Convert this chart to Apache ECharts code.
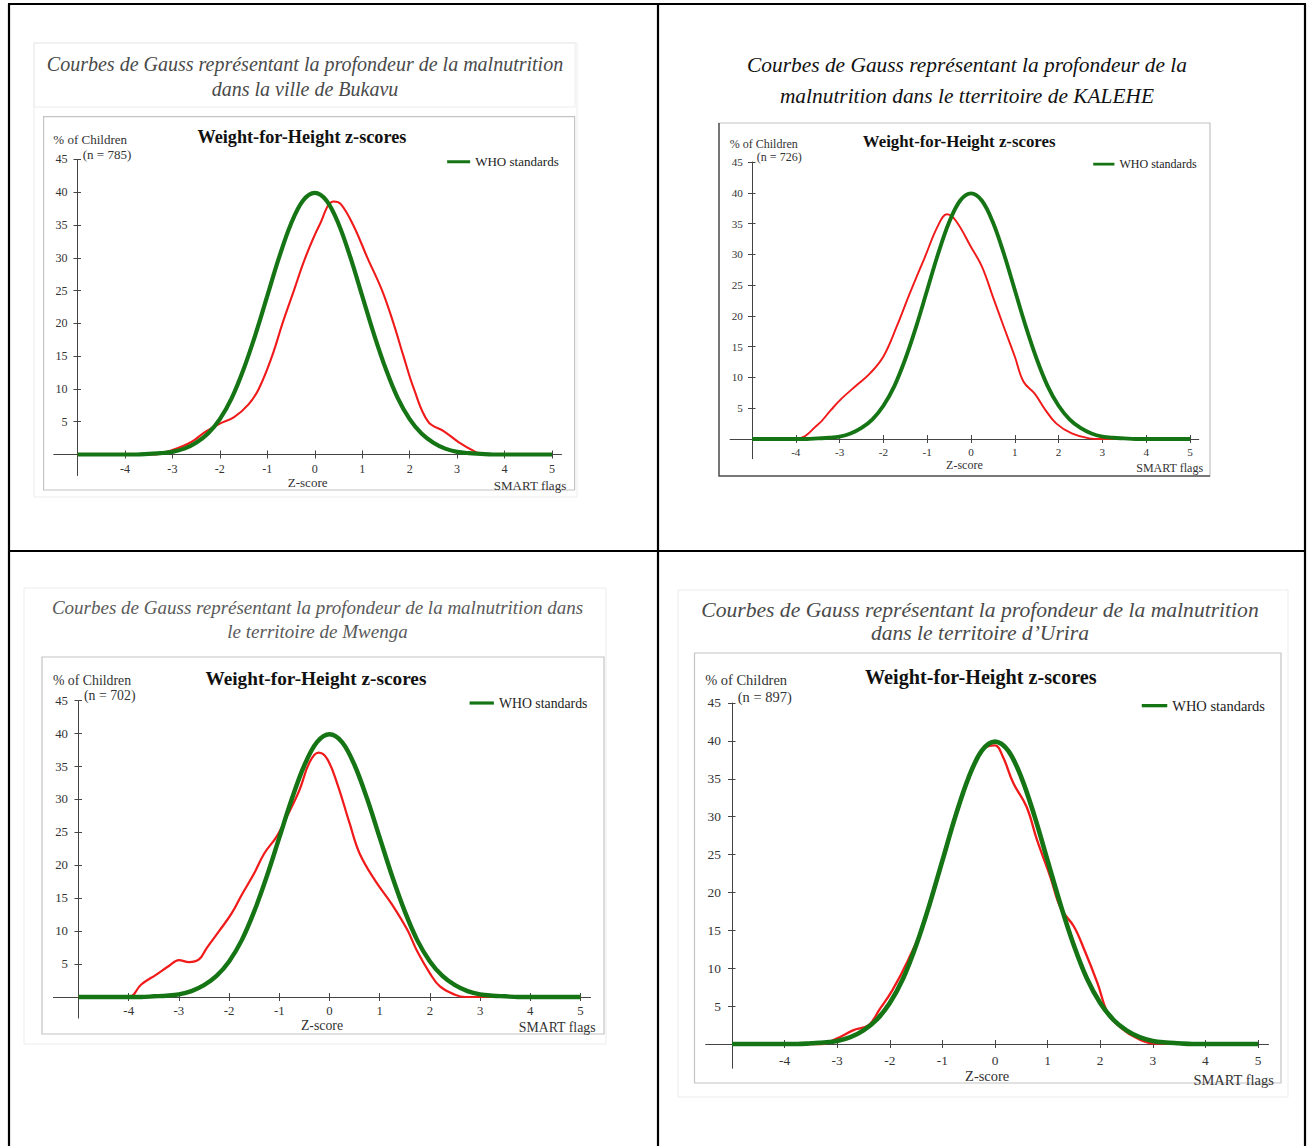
<!DOCTYPE html>
<html><head><meta charset="utf-8">
<script src="https://cdn.jsdelivr.net/npm/echarts@6/dist/echarts.min.js"></script>
<style>html,body{margin:0;padding:0;background:#fff}#c{width:1308px;height:1146px}</style>
</head><body><div id="c"></div>
<script>
// ---------- data ----------
const xTicks = [-4, -3, -2, -1, 0, 1, 2, 3, 4, 5];
const yTicks = [5, 10, 15, 20, 25, 30, 35, 40, 45];
const chartTitle = 'Weight-for-Height z-scores';
const yAxisTitle = '% of Children';
const legendLabel = 'WHO standards';
const xAxisTitle = 'Z-score';
const flagsLabel = 'SMART flags';

const whoZ   = [-5, -4.5, -4, -3.75, -3.5, -3.25, -3, -2.75, -2.5, -2.25, -2, -1.75, -1.5, -1.25, -1, -0.75, -0.5, -0.25, 0, 0.25, 0.5, 0.75, 1, 1.25, 1.5, 1.75, 2, 2.25, 2.5, 2.75, 3, 3.25, 3.5, 3.75, 4, 4.5, 5];
const whoPct = [0, 0, 0, 0, 0.1, 0.2, 0.4, 0.9, 1.8, 3.2, 5.4, 8.6, 13.0, 18.3, 24.2, 30.1, 35.2, 38.7, 39.9, 38.7, 35.2, 30.1, 24.2, 18.3, 13.0, 8.6, 5.4, 3.2, 1.8, 0.9, 0.4, 0.2, 0.1, 0, 0, 0, 0];

const bukavuZ   = [-5, -3.4, -3.0, -2.6, -2.3, -2.0, -1.7, -1.4, -1.18, -0.9, -0.68, -0.44, -0.2, 0.1, 0.4, 0.55, 0.81, 1.11, 1.42, 1.66, 1.87, 2.09, 2.39, 2.73, 3.03, 3.34, 3.55, 5];
const bukavuPct = [0, 0, 0.7, 1.9, 3.5, 4.7, 5.7, 7.6, 10, 15, 20, 25, 30, 35, 38.6, 38.2, 35, 30, 25, 20, 15, 10, 5, 3.5, 1.9, 0.6, 0, 0];

const kaleheZ   = [-5, -4.0, -3.5, -3.2, -2.95, -2.6, -2.3, -2.0, -1.7, -1.4, -1.05, -0.75, -0.55, -0.35, 0.0, 0.25, 0.5, 0.75, 1.0, 1.2, 1.45, 1.7, 1.95, 2.3, 2.7, 2.95, 5];
const kalehePct = [0, 0, 2.3, 4.7, 6.6, 8.8, 10.7, 13.4, 18.2, 23.6, 29.6, 34.7, 36.5, 35.5, 31.2, 28.0, 23.1, 18.2, 13.4, 9.3, 7.4, 4.7, 2.5, 0.9, 0.1, 0, 0];

const mwengaZ   = [-5, -4.0, -3.75, -3.45, -3.2, -3.0, -2.8, -2.6, -2.45, -2.2, -1.95, -1.75, -1.5, -1.3, -1.05, -0.85, -0.6, -0.4, -0.22, -0.05, 0.15, 0.4, 0.6, 0.9, 1.25, 1.55, 1.75, 2.0, 2.2, 2.5, 2.7, 5];
const mwengaPct = [0, 0, 1.9, 3.4, 4.7, 5.6, 5.3, 5.7, 7.4, 10.0, 12.7, 15.5, 18.8, 21.8, 24.4, 27.4, 31.4, 35.6, 37.1, 36.2, 32.5, 26.4, 21.8, 17.8, 14.0, 10.2, 6.9, 3.6, 1.6, 0.35, 0, 0];

const uriraZ   = [-5, -3.3, -3.0, -2.7, -2.4, -2.2, -1.95, -1.65, -1.35, -1.05, -0.75, -0.45, -0.25, 0.0, 0.15, 0.35, 0.6, 0.8, 1.05, 1.25, 1.5, 1.7, 1.95, 2.15, 2.4, 2.7, 3.0, 5];
const uriraPct = [0, 0, 0.75, 1.8, 2.5, 4.5, 7.1, 11.1, 15.9, 22.9, 30.4, 36.1, 38.8, 39.4, 37.9, 34.4, 31.3, 26.9, 22.1, 17.9, 15.5, 12.4, 8.0, 4.0, 2.1, 0.75, 0.1, 0];

const sampleSizes = [785, 726, 702, 897];
const places = ['Bukavu', 'KALEHE', 'Mwenga', 'Urira'];
const captions = [
  ['Courbes de Gauss représentant la profondeur de la malnutrition', 'dans la ville de Bukavu'],
  ['Courbes de Gauss représentant la profondeur de la', 'malnutrition dans le tterritoire de KALEHE'],
  ['Courbes de Gauss représentant la profondeur de la malnutrition dans', 'le territoire de Mwenga'],
  ['Courbes de Gauss représentant la profondeur de la malnutrition', 'dans le territoire d\u2019Urira']
];
const redZ = [bukavuZ, kaleheZ, mwengaZ, uriraZ];
const redPct = [bukavuPct, kalehePct, mwengaPct, uriraPct];

// ---------- layout / style ----------
const SERIF = "'Liberation Serif','Times New Roman',serif";
const XMIN = -5.5, XMAX = 5.2, YMIN = -3.2, YMAX = 45;
const L = [
  {X0: 77.5, Y0: 454.5, ux: 47.45, uy: 6.556},
  {X0: 752,  Y0: 439,   ux: 43.8,  uy: 6.156},
  {X0: 78.5, Y0: 997,   ux: 50.2,  uy: 6.584},
  {X0: 732,  Y0: 1044,  ux: 52.6,  uy: 7.578}
];
const frames = [[43.6, 116.7, 574.6, 490], [719, 123, 1210, 476], [42, 657, 604, 1034], [694.5, 653, 1281, 1083]];
const capStyle = [
  {cx: 305, y1: 64, y2: 89, fs: 20, color: '#4a4a4a'},
  {cx: 967, y1: 65, y2: 96, fs: 21.4, color: '#111'},
  {cx: 317.5, y1: 607, y2: 631, fs: 19, color: '#5a5a5a'},
  {cx: 980, y1: 610, y2: 633, fs: 21.6, color: '#4a4a4a'}
];
const faintBoxes = [[34, 43, 575, 107], [34, 43, 577, 497], [24, 588, 606, 1044], [678, 590, 1288, 1097]];

const zip = (a, b) => a.map((v, i) => [v, b[i]]);

const grids = [], xAxes = [], yAxes = [], series = [], legends = [], graphics = [];

// table lines
const tbl = [[8, 4, 1306, 4], [9, 4, 9, 1146], [1305, 4, 1305, 1146], [658, 4, 658, 1146], [8, 551, 1306, 551]];
tbl.forEach(p => graphics.push({type: 'line', shape: {x1: p[0], y1: p[1], x2: p[2], y2: p[3]}, style: {stroke: '#000', lineWidth: 2.2}, z: 10}));
faintBoxes.forEach(b => graphics.push({type: 'rect', shape: {x: b[0], y: b[1], width: b[2] - b[0], height: b[3] - b[1]}, style: {fill: 'none', stroke: '#ececec', lineWidth: 1}}));

L.forEach((l, i) => {
  const s = l.ux / 47.45;
  const fsSmall = 0.275 * l.ux;
  const fsTick = 0.255 * l.ux;
  const fsTitle = 0.384 * l.ux;
  const below = -YMIN * l.uy; // distance from the x-axis line down to the grid bottom
  const f = frames[i];
  graphics.push({type: 'rect', shape: {x: f[0], y: f[1], width: f[2] - f[0], height: f[3] - f[1]}, style: {fill: 'none', stroke: '#c4c4c4', lineWidth: 1.2}});
  if (i === 1) {
    graphics.push({type: 'polyline', shape: {points: [[f[0], f[1]], [f[0], f[3]], [f[2], f[3]]]}, style: {fill: 'none', stroke: '#555', lineWidth: 1.5}});
  }
  const c = capStyle[i];
  graphics.push({type: 'text', style: {text: captions[i][0], x: c.cx, y: c.y1, align: 'center', verticalAlign: 'middle', font: 'italic ' + c.fs + 'px ' + SERIF, fill: c.color}});
  graphics.push({type: 'text', style: {text: captions[i][1], x: c.cx, y: c.y2, align: 'center', verticalAlign: 'middle', font: 'italic ' + c.fs + 'px ' + SERIF, fill: c.color}});
  // chart texts
  graphics.push({type: 'text', style: {text: chartTitle, x: l.X0 + 4.73 * l.ux, y: l.Y0 - 48.4 * l.uy, align: 'center', verticalAlign: 'middle', font: 'bold ' + fsTitle + 'px ' + SERIF, fill: '#111'}});
  graphics.push({type: 'text', style: {text: yAxisTitle, x: l.X0 - 0.51 * l.ux, y: l.Y0 - 48.0 * l.uy, align: 'left', verticalAlign: 'middle', font: fsSmall + 'px ' + SERIF, fill: '#333'}});
  graphics.push({type: 'text', style: {text: '(n = ' + sampleSizes[i] + ')', x: l.X0 + 0.11 * l.ux, y: l.Y0 - 45.8 * l.uy, align: 'left', verticalAlign: 'middle', font: fsSmall + 'px ' + SERIF, fill: '#333'}});
  graphics.push({type: 'text', style: {text: flagsLabel, x: l.X0 + 10.3 * l.ux, y: l.Y0 + 4.7 * l.uy, align: 'right', verticalAlign: 'middle', font: fsSmall + 'px ' + SERIF, fill: '#333'}});

  grids.push({left: l.X0 + (XMIN + 5) * l.ux, width: (XMAX - XMIN) * l.ux, top: l.Y0 - YMAX * l.uy, height: (YMAX - YMIN) * l.uy, outerBoundsMode: 'none', containLabel: false});
  const axLine = {show: true, lineStyle: {color: '#444', width: 1}};
  xAxes.push({gridIndex: i, type: 'value', min: XMIN, max: XMAX, position: 'bottom',
    axisLine: Object.assign({onZero: true, onZeroAxisIndex: 2 * i}, axLine),
    axisTick: {show: true, customValues: xTicks, length: 4, lineStyle: {color: '#444'}},
    axisLabel: {show: true, customValues: xTicks, margin: 2.36 * l.uy - 0.6 * fsTick - below, fontFamily: SERIF, fontSize: fsTick, color: '#333'},
    splitLine: {show: false},
    name: xAxisTitle, nameLocation: 'middle', nameGap: 4.45 * l.uy - 0.6 * fsSmall - below,
    nameTextStyle: {fontFamily: SERIF, fontSize: fsSmall, color: '#333'}});
  xAxes.push({gridIndex: i, type: 'value', min: XMIN, max: XMAX, position: 'top',
    axisLine: {show: false, onZero: true, onZeroAxisIndex: 2 * i},
    axisTick: {show: true, customValues: xTicks, length: 4, lineStyle: {color: '#444'}},
    axisLabel: {show: false}, splitLine: {show: false}});
  yAxes.push({gridIndex: i, type: 'value', min: YMIN, max: YMAX, position: 'left', offset: -0.5 * l.ux,
    axisLine: Object.assign({onZero: false}, axLine),
    axisTick: {show: true, customValues: yTicks, length: 4, lineStyle: {color: '#444'}},
    axisLabel: {show: true, customValues: yTicks, margin: 0.21 * l.ux, fontFamily: SERIF, fontSize: fsTick, color: '#333'},
    splitLine: {show: false}});
  yAxes.push({gridIndex: i, type: 'value', min: YMIN, max: YMAX, position: 'left', offset: -0.5 * l.ux,
    axisLine: {show: false, onZero: false},
    axisTick: {show: true, inside: true, customValues: yTicks, length: 3.5, lineStyle: {color: '#444'}},
    axisLabel: {show: false}, splitLine: {show: false}});

  series.push({type: 'line', name: places[i], xAxisIndex: 2 * i, yAxisIndex: 2 * i, data: zip(redZ[i], redPct[i]),
    smooth: 0.4, symbol: 'none', showSymbol: false, lineStyle: {color: '#f01a1a', width: 2.1 * s}, z: 3, silent: true});
  series.push({type: 'line', name: legendLabel, xAxisIndex: 2 * i, yAxisIndex: 2 * i, data: zip(whoZ, whoPct),
    smooth: 0.35, symbol: 'none', showSymbol: false, itemStyle: {color: '#157515'}, lineStyle: {color: '#157515', width: 4.2 * s}, z: 4, silent: true});

  legends.push({data: [legendLabel], left: l.X0 + 7.79 * l.ux, top: l.Y0 - 44.65 * l.uy - 0.6 * fsSmall,
    icon: 'rect', itemWidth: 0.485 * l.ux, itemHeight: 3 * s, itemGap: 0, padding: 0, selectedMode: false,
    textStyle: {fontFamily: SERIF, fontSize: fsSmall, color: '#222', lineHeight: 1.2 * fsSmall}});
});

const chart = echarts.init(document.getElementById('c'), null, {renderer: 'svg', width: 1308, height: 1146});
chart.setOption({
  animation: false,
  backgroundColor: '#fff',
  grid: grids, xAxis: xAxes, yAxis: yAxes, series: series, legend: legends,
  graphic: {elements: graphics}
});
</script></body></html>
